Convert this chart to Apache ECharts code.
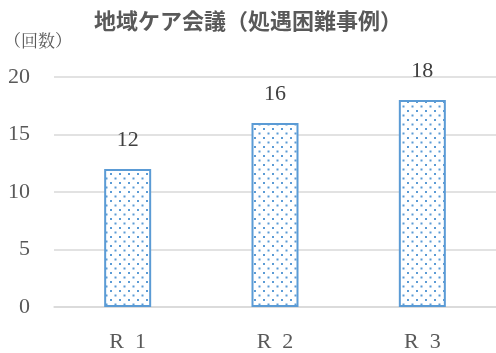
<!DOCTYPE html>
<html>
<head>
<meta charset="utf-8">
<script src="https://cdn.jsdelivr.net/npm/echarts@6/dist/echarts.min.js"></script>
<style>
  html, body { margin: 0; padding: 0; background: #fff; }
  #main { width: 496px; height: 353px; }
</style>
</head>
<body>
<div id="main"></div>
<script>
const categories = ['R\u20021', 'R\u20022', 'R\u20023'];
const counts = [12, 16, 18];
const yTicks = [0, 5, 10, 15, 20];

const serif = '"Liberation Serif", "DejaVu Serif", serif';
const textColor = '#595959';
const barBlue = '#5B9BD5';

// dotted fill pattern
function dotPattern() {
    const c = document.createElement('canvas');
    c.width = 9;
    c.height = 9;
    const ctx = c.getContext('2d');
    ctx.fillStyle = '#fff';
    ctx.fillRect(0, 0, 9, 9);
    ctx.fillStyle = barBlue;
    ctx.fillRect(2, 2, 2, 2);
    ctx.fillRect(6.5, 6.5, 2, 2);
    return c;
}

const chart = echarts.init(document.getElementById('main'));
chart.setOption({
    animation: false,
    title: {
        text: '地域ケア会議（処遇困難事例）',
        left: 'center',
        top: 5,
        textStyle: {
            color: textColor,
            fontSize: 22,
            fontWeight: 'bold',
            fontFamily: '"Noto Sans CJK JP", sans-serif'
        }
    },
    graphic: [{
        type: 'text',
        left: 4,
        top: 32,
        style: {
            text: '（回数）',
            fill: textColor,
            font: '17px "Noto Serif CJK JP", "Noto Sans CJK JP", serif'
        }
    }],
    grid: {
        left: 54,
        right: 0,
        top: 77,
        bottom: 43
    },
    xAxis: {
        type: 'category',
        data: categories,
        axisTick: { show: false },
        axisLine: { lineStyle: { color: '#d9d9d9', width: 1.5 } },
        axisLabel: {
            color: textColor,
            fontSize: 22,
            fontFamily: serif,
            margin: 24
        }
    },
    yAxis: {
        type: 'value',
        min: yTicks[0],
        max: yTicks[yTicks.length - 1],
        interval: 5,
        axisLine: { show: false },
        axisTick: { show: false },
        splitLine: { lineStyle: { color: '#d9d9d9', width: 1.5 } },
        axisLabel: {
            color: textColor,
            fontSize: 22,
            fontFamily: serif,
            margin: 24
        }
    },
    series: [{
        type: 'bar',
        data: counts,
        barWidth: 47,
        itemStyle: {
            color: { image: dotPattern(), repeat: 'repeat' },
            borderColor: barBlue,
            borderWidth: 2
        },
        label: {
            show: true,
            position: 'top',
            distance: 18,
            color: '#404040',
            fontSize: 22,
            fontFamily: serif
        }
    }]
});
</script>
</body>
</html>
